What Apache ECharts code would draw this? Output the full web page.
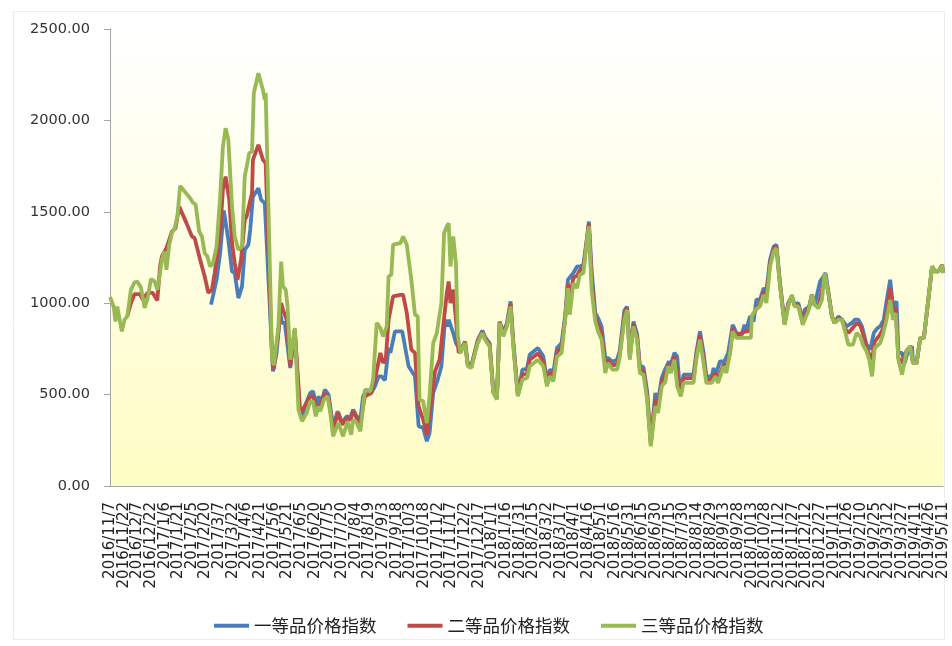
<!DOCTYPE html>
<html><head><meta charset="utf-8">
<script src="https://cdn.jsdelivr.net/npm/echarts@6/dist/echarts.min.js"></script>
<style>html,body{margin:0;padding:0;background:#fff}#c{width:952px;height:646px}</style>
</head><body><div id="c"></div>
<script>
// x categories: daily dates from 2016/11/7, 916 days, labelled every 15 days
const startDate = [2016, 11, 7];
const dayCount = 916;
const labelEvery = 15;
const seriesNames = ['一等品价格指数', '二等品价格指数', '三等品价格指数'];
const yTicks = [0, 500, 1000, 1500, 2000, 2500];

// [day offset from 2016/11/7, index value]
const grade1 = [[111,992],[113,982],[117,1128],[121,1274],[125,1507],[130,1347],[134,1174],[137,1165],[141,1028],[145,1092],[148,1292],[152,1320],[154,1401],[157,1583],[163,1629],[166,1565],[170,1547],[179,627],[183,728],[187,946],[189,892],[192,892],[198,646],[203,855],[208,418],[211,373],[214,436],[220,509],[223,518],[227,436],[229,491],[232,455],[236,527],[240,500],[245,327],[250,409],[254,345],[260,381],[264,373],[267,418],[271,381],[275,363],[278,491],[282,527],[287,509],[291,545],[295,600],[298,600],[302,578],[306,755],[308,728],[313,846],[321,846],[328,655],[335,600],[339,327],[344,318],[348,245],[351,290],[355,509],[360,582],[364,655],[368,910],[371,873],[372,910],[377,837],[380,782],[385,740],[390,790],[393,670],[397,660],[401,740],[404,800],[409,850],[412,815],[417,780],[421,520],[425,485],[428,900],[432,840],[436,890],[440,1010],[443,790],[448,500],[453,637],[458,640],[461,718],[470,755],[476,709],[480,564],[483,637],[487,620],[491,755],[496,782],[500,930],[503,1128],[505,1130],[509,1165],[513,1201],[516,1200],[520,1210],[524,1360],[526,1447],[529,1183],[533,946],[536,920],[540,873],[544,700],[547,700],[552,680],[557,690],[560,740],[565,960],[568,982],[571,720],[575,900],[579,830],[582,660],[586,650],[590,520],[594,240],[599,509],[602,460],[606,590],[610,640],[614,682],[616,664],[620,728],[623,709],[626,527],[627,509],[630,609],[641,609],[644,728],[648,846],[652,728],[655,600],[661,600],[663,646],[665,600],[670,682],[675,682],[679,728],[684,882],[688,837],[694,828],[697,882],[699,855],[703,928],[707,900],[710,1019],[714,1019],[718,1083],[721,1065],[725,1238],[729,1310],[732,1320],[736,1110],[741,892],[745,1001],[749,1037],[752,990],[756,1001],[761,900],[763,964],[768,982],[771,1046],[774,990],[780,1119],[784,1147],[786,1165],[793,928],[796,892],[800,928],[804,910],[809,873],[815,892],[818,910],[822,910],[826,873],[831,773],[835,746],[839,837],[843,864],[846,873],[850,910],[853,1010],[857,1128],[860,983],[864,1010],[866,728],[870,728],[873,673],[877,746],[881,764],[882,673],[886,673],[890,810],[894,810],[898,982],[903,1201],[906,1174],[910,1174],[914,1210],[915,1165]];

const grade2 = [[19,928],[23,1001],[27,1050],[33,1050],[36,1019],[41,1056],[47,1056],[52,1015],[55,1201],[57,1256],[62,1301],[68,1392],[72,1411],[76,1529],[84,1438],[90,1365],[93,1356],[99,1238],[104,1146],[108,1056],[112,1074],[115,1165],[121,1384],[124,1620],[127,1693],[131,1565],[134,1329],[137,1220],[140,1128],[144,1238],[148,1456],[150,1474],[153,1540],[156,1602],[157,1784],[163,1866],[168,1784],[171,1766],[178,700],[180,640],[185,850],[188,1001],[190,965],[194,910],[198,655],[203,855],[209,400],[214,436],[220,491],[223,491],[227,418],[231,440],[236,509],[240,480],[245,318],[251,400],[255,336],[260,373],[264,360],[267,409],[271,373],[275,345],[280,491],[287,509],[291,582],[297,728],[300,673],[303,700],[306,910],[311,1037],[319,1046],[322,1046],[326,946],[331,746],[335,728],[339,436],[344,363],[348,281],[351,400],[357,627],[362,691],[366,873],[370,1056],[372,1119],[374,1001],[377,1074],[380,910],[383,728],[385,735],[390,785],[393,662],[397,652],[401,735],[404,790],[409,843],[412,808],[417,772],[421,515],[425,478],[428,896],[432,830],[436,880],[440,995],[443,777],[448,495],[453,610],[458,615],[461,690],[470,725],[476,685],[480,555],[483,618],[487,597],[491,735],[496,755],[500,920],[503,1105],[505,1030],[509,1140],[513,1150],[516,1180],[520,1190],[524,1355],[526,1435],[529,1130],[533,925],[536,885],[540,840],[544,660],[547,690],[552,660],[557,665],[560,725],[565,935],[568,975],[571,705],[575,885],[579,815],[582,640],[586,630],[590,495],[594,228],[599,475],[602,430],[606,565],[610,610],[614,668],[616,640],[620,710],[623,627],[627,500],[630,590],[641,590],[644,710],[648,825],[652,700],[655,585],[661,585],[665,620],[668,580],[674,668],[677,650],[681,728],[684,864],[688,825],[698,845],[703,850],[705,928],[709,960],[714,1000],[718,1065],[721,1030],[725,1220],[729,1296],[732,1310],[736,1100],[741,887],[745,992],[749,1040],[752,986],[756,992],[761,890],[763,937],[768,978],[771,1046],[774,991],[778,980],[782,1070],[785,1160],[789,1060],[793,928],[796,892],[800,918],[804,910],[807,864],[811,837],[816,865],[820,890],[824,880],[827,835],[831,755],[834,720],[837,690],[840,790],[846,830],[849,860],[853,950],[857,1083],[860,950],[863,978],[866,700],[870,673],[875,740],[879,764],[882,673],[886,673],[890,810],[894,810],[898,982],[903,1201],[906,1174],[910,1174],[914,1210],[915,1165]];

const grade3 = [[0,1034],[4,982],[6,900],[8,982],[11,900],[13,846],[16,910],[19,928],[23,1074],[27,1114],[30,1119],[34,1086],[38,974],[41,1019],[45,1132],[49,1119],[52,1074],[55,1165],[57,1238],[60,1283],[62,1183],[65,1320],[68,1384],[71,1411],[74,1474],[77,1642],[82,1611],[88,1575],[91,1551],[94,1540],[98,1392],[101,1365],[104,1274],[107,1256],[110,1201],[113,1216],[117,1310],[121,1583],[124,1857],[127,1957],[130,1893],[134,1529],[137,1365],[141,1292],[145,1310],[148,1693],[153,1821],[156,1830],[158,2150],[163,2258],[168,2166],[170,2112],[171,2150],[178,700],[180,660],[185,873],[188,1228],[190,1092],[193,1074],[195,982],[198,691],[203,864],[207,418],[211,354],[216,400],[220,463],[223,463],[226,381],[229,436],[231,409],[235,473],[239,491],[242,400],[245,272],[251,345],[256,272],[261,354],[265,281],[267,363],[271,345],[275,299],[280,527],[286,518],[289,582],[293,892],[297,864],[300,819],[304,873],[306,1146],[309,1156],[311,1320],[319,1329],[322,1365],[326,1320],[331,1128],[335,937],[338,928],[340,473],[344,464],[348,345],[351,491],[355,782],[359,837],[364,1001],[367,1384],[370,1420],[372,1438],[374,1201],[377,1365],[380,1220],[382,819],[385,728],[390,782],[393,655],[397,646],[401,728],[404,782],[409,837],[412,800],[417,764],[421,509],[425,473],[428,892],[432,819],[436,873],[440,982],[443,764],[448,491],[453,582],[458,591],[461,655],[470,691],[476,655],[480,545],[483,600],[487,573],[491,709],[496,728],[500,910],[503,1083],[505,937],[509,1110],[513,1083],[516,1156],[520,1165],[524,1347],[526,1420],[529,1074],[533,900],[536,846],[540,800],[544,618],[547,673],[552,637],[557,637],[560,709],[565,910],[568,964],[571,691],[575,873],[579,800],[582,618],[586,609],[590,473],[594,217],[599,436],[602,400],[606,545],[610,570],[613,655],[616,618],[620,691],[623,545],[627,491],[630,564],[641,564],[644,691],[648,800],[652,673],[655,564],[661,564],[665,600],[668,564],[674,655],[677,618],[681,728],[684,846],[688,810],[698,810],[704,810],[705,928],[709,964],[714,983],[718,1046],[721,1001],[725,1201],[729,1283],[732,1301],[736,1092],[741,882],[745,983],[749,1046],[752,983],[756,983],[761,882],[763,910],[767,955],[771,1046],[774,992],[778,973],[782,1019],[785,1165],[789,1055],[793,928],[796,892],[800,910],[804,910],[807,855],[811,773],[816,773],[820,837],[824,819],[827,773],[831,737],[834,691],[837,600],[840,755],[846,782],[849,828],[853,910],[857,1019],[860,910],[863,946],[866,691],[870,609],[875,737],[879,764],[882,673],[886,673],[890,810],[894,810],[898,982],[903,1201],[906,1174],[910,1174],[914,1210],[915,1165]];

const categories = [];
for (let i = 0; i < dayCount; i++) {
  const d = new Date(startDate[0], startDate[1] - 1, startDate[2] + i);
  categories.push(d.getFullYear() + '/' + (d.getMonth() + 1) + '/' + d.getDate());
}
const toData = arr => arr.map(p => [categories[p[0]], p[1]]);

const colors = ['#4A7EBB', '#BE4B48', '#98B954'];
const chart = echarts.init(document.getElementById('c'));
chart.setOption({
  animation: false,
  backgroundColor: '#fff',
  color: colors,
  graphic: [{
    type: 'rect', left: 11, top: 9, z: -10,
    shape: { width: 931, height: 628 },
    style: { fill: 'none', stroke: '#ececec', lineWidth: 1 }
  }],
  grid: {
    left: 110, right: 9, top: 29, bottom: 160, show: true, borderWidth: 0,
    backgroundColor: { type: 'linear', x: 0, y: 0, x2: 0, y2: 1,
      colorStops: [{ offset: 0, color: '#ffffff' }, { offset: 1, color: '#fefdc4' }] }
  },
  legend: {
    data: seriesNames, left: 209, top: 612, icon: 'rect', itemWidth: 35, itemHeight: 4,
    itemGap: 31,
    textStyle: { fontFamily: 'Noto Sans CJK SC', fontSize: 17.5, color: '#222' }
  },
  xAxis: {
    type: 'category', data: categories, boundaryGap: false,
    axisLine: { lineStyle: { color: '#a6a6a6', width: 1 } },
    axisTick: { show: false },
    axisLabel: {
      interval: 0, rotate: 90, margin: 16,
      formatter: (value, index) => (index % labelEvery === 0 ? value : ''),
      fontFamily: 'DejaVu Sans', fontSize: 15, color: '#222'
    },
    splitLine: { show: false }
  },
  yAxis: {
    type: 'value', min: yTicks[0], max: yTicks[yTicks.length - 1], interval: 500,
    axisLine: { show: true, lineStyle: { color: '#a6a6a6' } },
    axisTick: { show: true, length: 6, lineStyle: { color: '#a6a6a6' } },
    axisLabel: { formatter: v => v.toFixed(2), margin: 20,
      fontFamily: 'DejaVu Sans', fontSize: 14.5, color: '#333' },
    splitLine: { show: false }
  },
  series: [grade1, grade2, grade3].map((g, i) => ({
    name: seriesNames[i], type: 'line', data: toData(g), showSymbol: false,
    symbol: 'none', lineStyle: { width: 3.8, color: colors[i] }, z: 2 + i
  }))
});
</script></body></html>
